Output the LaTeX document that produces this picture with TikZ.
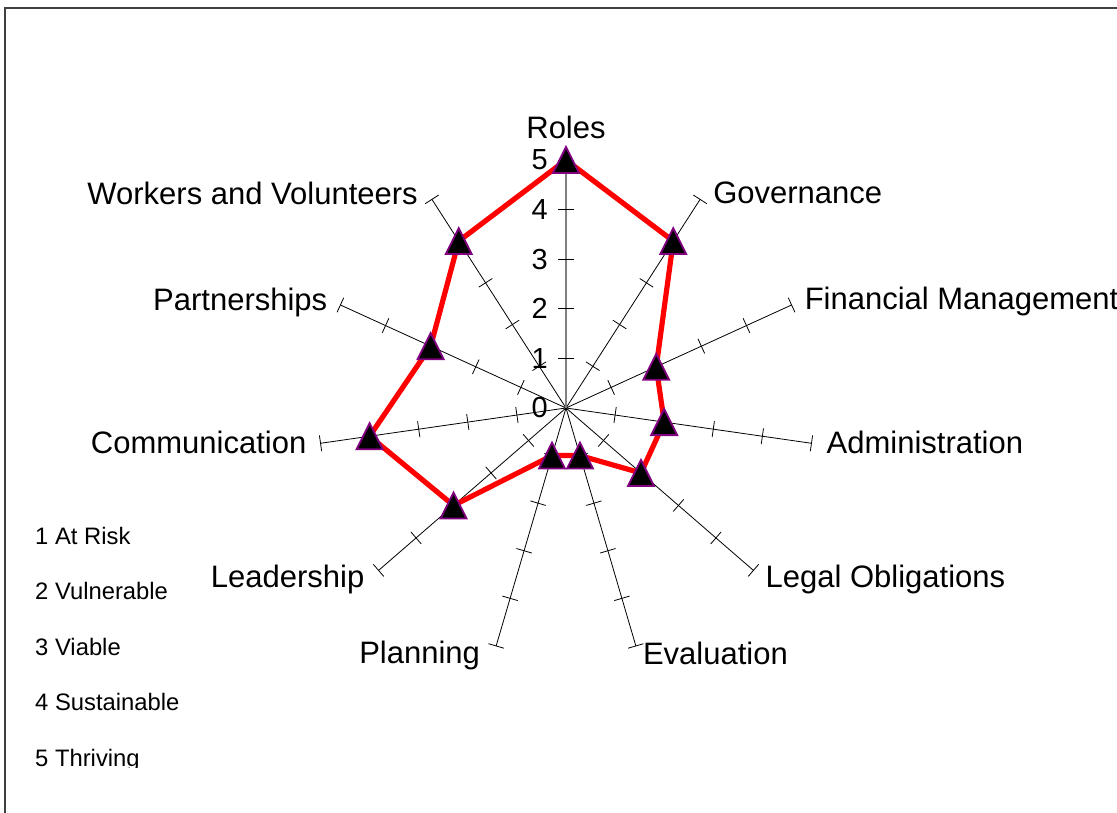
\documentclass[tikz,border=0pt]{standalone}
\usepackage{fontspec}
\setmainfont{Liberation Sans}
\usepackage{xcolor}
\usepackage{tikz}
\usetikzlibrary{calc}
\usetikzlibrary{positioning}
\definecolor{markpurple}{RGB}{128,0,128}
\definecolor{framegray}{RGB}{64,64,64}

\tikzset{
	scoremark/.pic={\filldraw[fill=black,draw=markpurple,line width=1.8pt] (0,13) -- (13,-13) -- (-13,-13) -- cycle;}
}

\begin{document}
\begin{tikzpicture}[x=1pt,y=1pt,
	axisline/.style={black,line width=0.8pt},
	valaxis/.style={gray,line width=1.3pt},
	tickmark/.style={black,line width=0.8pt},
	scoreline/.style={red,line width=5.2pt,line join=round},
	axlabel/.style={font=\fontsize{31}{37}\selectfont,inner sep=0pt},
	numlabel/.style={font=\fontsize{29}{35}\selectfont,inner sep=0pt,anchor=east},
	keylabel/.style={font=\fontsize{23.8}{28}\selectfont,inner sep=0pt,anchor=base west}]
	\path[use as bounding box] (0,0) rectangle (1117,812);
	\clip (0,0) rectangle (1117,812);
	\draw[framegray,line width=1.5pt] (5,-5) -- (5,804) -- (1125,804);
	\coordinate (C) at (566,404);
	\foreach \k in {0,...,10}
		\coordinate (ax\k) at ($(C)+({90-\k*360/11}:248)$);
	\foreach \k/\v in {0/5,1/4,2/2,3/2,4/2,5/1,6/1,7/3,8/4,9/3,10/4}
		\coordinate (v\k) at ($(C)+({90-\k*360/11}:{\v*49.6})$);
	\foreach \j in {0,...,5}
		\node[numlabel] (num\j) at ($(C)+(-18,{\j*49.6})$) {\j};
	\foreach \k in {1,...,10}
		\draw[axisline] (C) -- (ax\k);
	\draw[valaxis] (C) -- (ax0);
	\foreach \k in {0,...,10}
		\foreach \j in {1,...,5}
			\draw[tickmark,shift={(C)},rotate={90-\k*360/11}] ({\j*49.6},-8) -- ({\j*49.6},8);
	\draw[scoreline] (v0) -- (v1) -- (v2) -- (v3) -- (v4) -- (v5) -- (v6) -- (v7) -- (v8) -- (v9) -- (v10) -- cycle;
	\foreach \k in {0,...,10}
		\pic at (v\k) {scoremark};
	\node[axlabel,anchor=base] (lab0) at ($(ax0)+(0,21)$) {Roles};
	\node[axlabel,anchor=base west] (lab1) at ($(ax1)+(13,-4)$) {Governance};
	\node[axlabel,anchor=base west] (lab2) at ($(ax2)+(13,-5)$) {Financial Management};
	\node[axlabel,anchor=base west] (lab3) at ($(ax3)+(15,-10)$) {Administration};
	\node[axlabel,anchor=base west] (lab4) at ($(ax4)+(12,-17)$) {Legal Obligations};
	\node[axlabel,anchor=base west] (lab5) at ($(ax5)+(7,-19)$) {Evaluation};
	\node[axlabel,anchor=base east] (lab6) at ($(ax6)+(-16,-18)$) {Planning};
	\node[axlabel,anchor=base east] (lab7) at ($(ax7)+(-14,-17)$) {Leadership};
	\node[axlabel,anchor=base east] (lab8) at ($(ax8)+(-14,-10)$) {Communication};
	\node[axlabel,anchor=base east] (lab9) at ($(ax9)+(-13,-6)$) {Partnerships};
	\node[axlabel,anchor=base east] (lab10) at ($(ax10)+(-14,-5)$) {Workers and Volunteers};
	\begin{scope}
		\clip (0,45) rectangle (300,812);
		\node[keylabel] (key1) at (35,267) {1 At Risk};
		\node[keylabel] (key2) at (35,212) {2 Vulnerable};
		\node[keylabel] (key3) at (35,157) {3 Viable};
		\node[keylabel] (key4) at (35,102) {4 Sustainable};
		\node[keylabel] (key5) at (35,46) {5 Thriving};
	\end{scope}
\end{tikzpicture}
\end{document}
